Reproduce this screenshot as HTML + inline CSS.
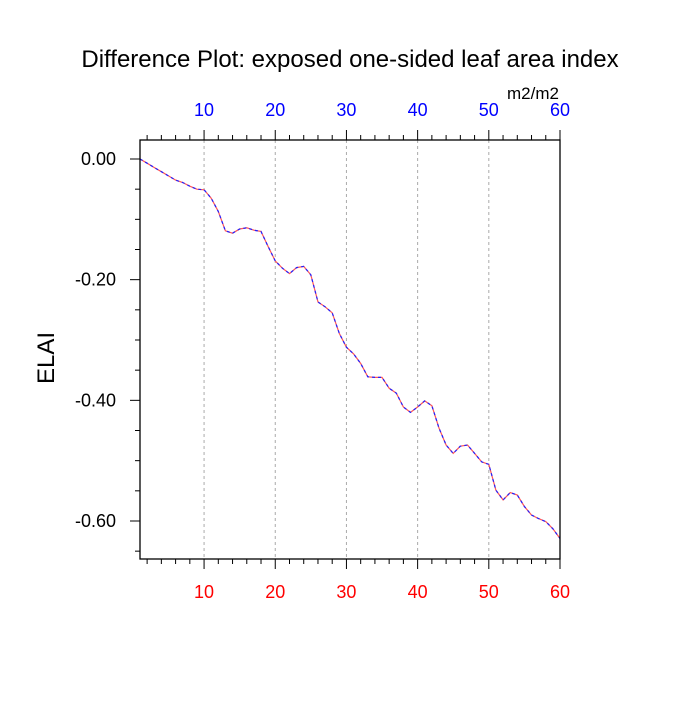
<!DOCTYPE html>
<html><head><meta charset="utf-8"><style>
body{margin:0;background:#fff;}
svg text{font-family:"Liberation Sans",Arial,sans-serif;}
</style></head><body>
<svg id="chart" width="700" height="700" viewBox="0 0 700 700" xmlns="http://www.w3.org/2000/svg">
<rect width="700" height="700" fill="#fff"/>
<text x="350" y="67" font-size="24" text-anchor="middle">Difference Plot: exposed one-sided leaf area index</text>
<text x="533" y="99" font-size="17" text-anchor="middle">m2/m2</text>
<text transform="translate(54,358) rotate(-90)" font-size="24" text-anchor="middle">ELAI</text>
<g id="grid"></g>
<g id="axes"></g>
<g id="series"></g>
<rect x="140" y="140" width="420" height="419" fill="none" stroke="#000" stroke-width="1.3"/>
</svg>
<script>
const xTicks=[10,20,30,40,50,60];
const yTicks=[0,-0.2,-0.4,-0.6];
const yTickLabels=["0.00","-0.20","-0.40","-0.60"];
const elai=[0,-0.007,-0.014,-0.021,-0.028,-0.035,-0.039,-0.045,-0.050,-0.051,
-0.065,-0.087,-0.119,-0.123,-0.116,-0.114,-0.118,-0.120,-0.145,-0.169,
-0.181,-0.190,-0.180,-0.178,-0.192,-0.237,-0.245,-0.255,-0.289,-0.312,
-0.323,-0.339,-0.361,-0.362,-0.362,-0.380,-0.388,-0.411,-0.420,-0.411,
-0.401,-0.409,-0.446,-0.474,-0.488,-0.476,-0.474,-0.488,-0.502,-0.506,
-0.549,-0.565,-0.553,-0.557,-0.576,-0.590,-0.596,-0.601,-0.613,-0.629];
const X0=140,X1=560,Y0=140,Y1=559;
const xMin=1,xMax=60,yMax=0.0315,yMin=-0.663;
function sx(v){return X0+(v-xMin)/(xMax-xMin)*(X1-X0);}
function sy(v){return Y0+(yMax-v)/(yMax-yMin)*(Y1-Y0);}
const NS="http://www.w3.org/2000/svg";
function mk(tag,attrs,parent){const e=document.createElementNS(NS,tag);for(const k in attrs)e.setAttribute(k,attrs[k]);parent.appendChild(e);return e;}
const grid=document.getElementById('grid'),axes=document.getElementById('axes'),series=document.getElementById('series');
xTicks.forEach(t=>{
 if(t<xMax){const g=mk('line',{x1:sx(t),x2:sx(t),y1:Y0,y2:Y1,stroke:'#aaa','stroke-width':1,'stroke-dasharray':'3,3'},grid);
 
 }
 const lb=mk('text',{x:sx(t),y:598,'font-size':18,'text-anchor':'middle',fill:'#f00'},axes);lb.textContent=t;
 
 
 const lt=mk('text',{x:sx(t),y:116,'font-size':18,'text-anchor':'middle',fill:'#00f'},axes);lt.textContent=t;
 
 
});
for(let t=2;t<=60;t+=2){
 const maj=t%10===0;const L=maj?10:5;
 const a=mk('line',{x1:sx(t),x2:sx(t),y1:Y1,y2:Y1+L,stroke:'#000','stroke-width':1},axes);
 
 
 const b=mk('line',{x1:sx(t),x2:sx(t),y1:Y0,y2:Y0-L,stroke:'#000','stroke-width':1},axes);
 
 
}
for(let i=0;i<=13;i++){
 const v=-0.05*i;const maj=i%4===0;const L=maj?10:5;
 const a=mk('line',{x1:X0,x2:X0-L,y1:sy(v),y2:sy(v),stroke:'#000','stroke-width':1},axes);
 
 
}
yTicks.forEach((t,i)=>{
 const l=mk('text',{x:116,y:sy(t)+6,'font-size':18,'text-anchor':'end'},axes);l.textContent=yTickLabels[i];
 
 
});
const pts=elai.map((v,i)=>sx(i+1).toFixed(1)+','+sy(v).toFixed(1)).join(' ');
const r=mk('polyline',{points:pts,fill:'none',stroke:'#f55','stroke-width':1.2},series);


const b=mk('polyline',{points:pts,fill:'none',stroke:'#22f','stroke-width':1.2,'stroke-dasharray':'3,3'},series);


</script>
</body></html>
